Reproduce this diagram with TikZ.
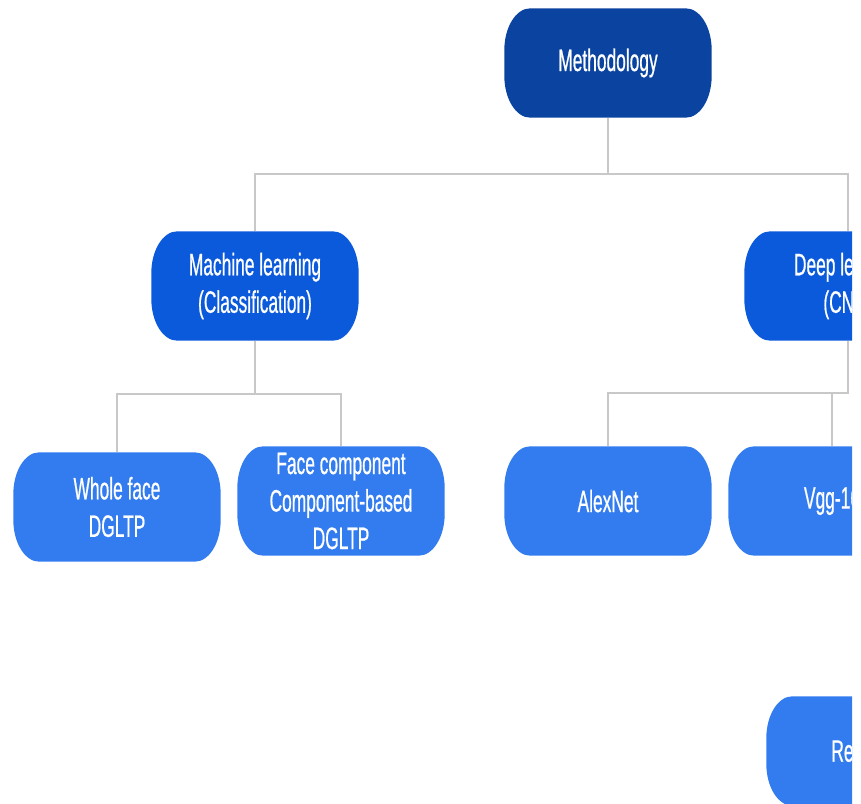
\documentclass[tikz,border=0pt]{standalone}
\usepackage{fontspec}
\setmainfont{Liberation Sans}[FakeStretch=0.56, FakeBold=0.6]
\usepackage{tikz}
\usetikzlibrary{positioning,backgrounds}
\definecolor{rootblue}{HTML}{0A44A0}
\definecolor{midblue}{HTML}{0C5ADC}
\definecolor{leafblue}{HTML}{337CF0}
\definecolor{wire}{HTML}{C8C8C8}
\tikzset{
  pill/.style={rectangle, draw=none, text=white,
               align=center, minimum width=207pt, minimum height=109pt,
               font=\fontsize{31}{37.5}\selectfont},
  wire/.style={draw=wire, line width=1.5pt}
}
% elliptical-corner pill behind a named node
\newcommand{\pillfill}[2]{%
  \fill[#2] ([xshift=26pt]#1.north west) -- ([xshift=-26pt]#1.north east)
    arc[start angle=90, end angle=0, x radius=26pt, y radius=42pt]
    -- ([yshift=42pt]#1.south east)
    arc[start angle=0, end angle=-90, x radius=26pt, y radius=42pt]
    -- ([xshift=26pt]#1.south west)
    arc[start angle=270, end angle=180, x radius=26pt, y radius=42pt]
    -- ([yshift=-42pt]#1.north west)
    arc[start angle=180, end angle=90, x radius=26pt, y radius=42pt] -- cycle;}

\begin{document}
\begin{tikzpicture}[x=1pt, y=-1pt]
  \useasboundingbox (0,0) rectangle (861,803);
  \clip (0,0) rectangle (852,803);

  % top level
  \node[pill] (meth) at (608,63) {Methodology};

  % second level
  \node[pill] (ml) at (255,286) {Machine learning\\(Classification)};
  \node[pill] (dl) at (848,286) {Deep learning\\(CNN)};

  % leaves
  \node[pill] (whole) at (117,507) {Whole face\\DGLTP};
  \node[pill] (comp) at (341,501) {Face component\\Component-based\\DGLTP};
  \node[pill] (alex) at (608,501) {AlexNet};
  \node[pill] (vgg) at (832,501) {Vgg-16};
  \node[pill] (res) at (870,751) {ResNet50};

  \begin{scope}[on background layer]
    \clip (0,0) rectangle (852,803);
    \foreach \n/\c in {meth/rootblue, ml/midblue, dl/midblue, whole/leafblue,
                       comp/leafblue, alex/leafblue, vgg/leafblue, res/leafblue}
      \pillfill{\n}{\c};
  \end{scope}

  % connectors
  \coordinate (mj) at (608,174);
  \coordinate (mlj) at (255,394);
  \coordinate (dlj) at (848,393);
  \draw[wire] (meth.south) -- (mj) -| (ml.north);
  \draw[wire] (mj) -| (dl.north);
  \draw[wire] (ml.south) -- (mlj) -| (whole.north);
  \draw[wire] (mlj) -| (comp.north);
  \draw[wire] (dl.south) -- (dlj) -| (alex.north);
  \draw[wire] (dlj) -| (vgg.north);
\end{tikzpicture}
\end{document}
